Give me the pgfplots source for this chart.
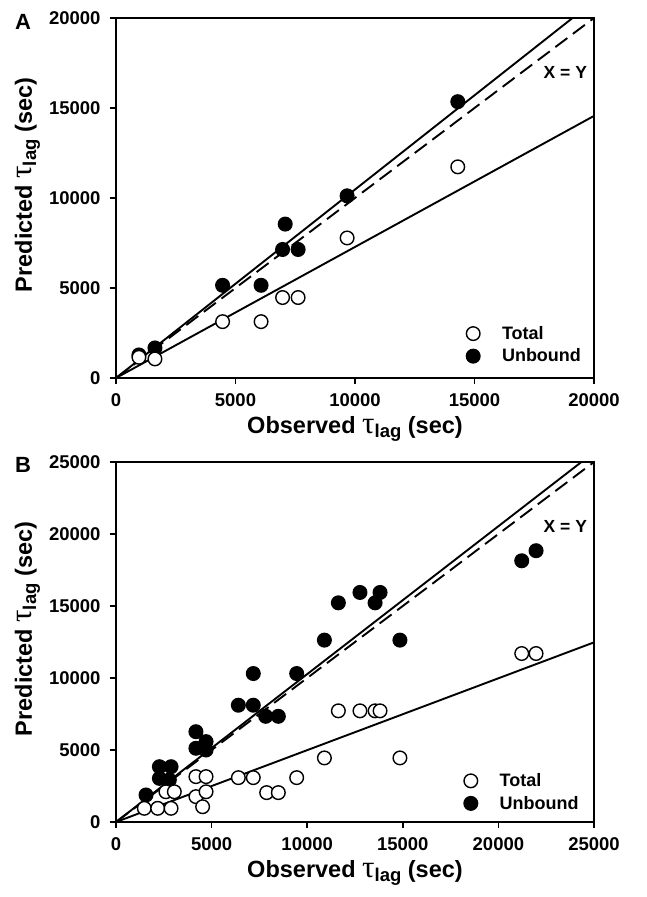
\documentclass[border=0pt]{standalone}
\usepackage{fontspec}
\setmainfont{Liberation Sans}
\newfontfamily\symfont{Liberation Serif}
\usepackage{pgfplots}
\pgfplotsset{compat=1.18}

\newcommand{\taulag}{{\fontsize{31}{31}\selectfont\symfont\mdseries τ}\raisebox{-0.35ex}{\fontsize{18.5}{19}\selectfont lag}}

\pgfplotsset{
  panel/.style={
    scale only axis, width=478pt, height=360pt, anchor=south west,
    xmin=0, ymin=0,
    axis line style={line width=1.5pt},
    tick style={line width=1.5pt, black},
    major tick length=6pt, tick align=outside, tick pos=left,
    tick label style={font=\fontsize{18.5}{20}\selectfont\bfseries},
    yticklabel style={xshift=-6pt},
    xticklabel style={yshift=-8pt, inner sep=1pt},
    /pgf/number format/assume math mode=true,
    /pgf/number format/1000 sep={},
    scaled ticks=false,
    label style={font=\fontsize{23.5}{25}\selectfont\bfseries, inner sep=0.5pt},
    xlabel style={at={(axis description cs:0.5,-0.154)}, anchor=base},
    ylabel style={at={(axis description cs:-0.176,0.536)}, anchor=base},
    xlabel={Observed \taulag{} (sec)},
    ylabel={Predicted \taulag{} (sec)},
    legend style={draw=none, fill=none, font=\fontsize{18}{20}\selectfont\bfseries,
      row sep=4pt, column sep=20pt, anchor=center},
    legend cell align=left,
  },
  openm/.style={only marks, mark=*, mark size=6.8pt,
    mark options={fill=white, draw=black, line width=1.4pt}},
  fillm/.style={only marks, mark=*, mark size=6.8pt,
    mark options={fill=black, draw=black, line width=1.4pt}},
  fitline/.style={line width=1.9pt, black, forget plot},
}

\pgfplotstableread{
x y
960 1280
1630 1670
4460 5150
6070 5150
6970 7140
7620 7140
7080 8550
9670 10120
14300 15350
}\unboundA
\pgfplotstableread{
x y
960 1150
1630 1060
4460 3130
6070 3130
6970 4470
7620 4470
9670 7780
14300 11730
}\totalA

\pgfplotstableread{
x y
1570 1875
2270 3840
2880 3840
2270 3030
2790 2920
4180 6270
4180 5120
4710 5580
4710 5000
6400 8110
7180 10310
7180 8110
7830 7340
8490 7340
9450 10310
10900 12630
14850 12630
11630 15220
12760 15940
13550 15220
13810 15940
21220 18140
21970 18840
}\unboundB
\pgfplotstableread{
x y
1480 950
2180 950
2880 950
2610 2100
3050 2100
4180 3150
4710 3150
4180 1760
4710 2100
4530 1060
6400 3080
7180 3080
9450 3080
7880 2040
8490 2040
10900 4450
14850 4450
11630 7720
12760 7720
13550 7720
13810 7720
21220 11700
21970 11700
}\totalB

\begin{document}
\begin{tikzpicture}
\useasboundingbox (0,0) rectangle (646pt,897pt);

\begin{axis}[panel, at={(116pt,519pt)}, xmax=20000, ymax=20000,
  xtick={0,5000,10000,15000,20000}, ytick={0,5000,10000,15000,20000},
  legend style={at={(axis description cs:0.855,0.092)}}]
\addplot[fitline] coordinates {(0,0) (20000,20940)};
\addplot[fitline] coordinates {(0,0) (20000,14560)};
\addplot[fitline, dash pattern=on 15pt off 7pt] coordinates {(0,0) (20000,20000)};
\addplot[fillm, forget plot] table {\unboundA};
\addplot[openm, forget plot] table {\totalA};
\addlegendimage{openm}
\addlegendimage{fillm}
\legend{Total, Unbound}
\node[font=\fontsize{17.5}{19}\selectfont\bfseries] at (axis cs:18800,17000) {X = Y};
\end{axis}

\begin{axis}[panel, at={(116pt,75pt)}, xmax=25000, ymax=25000,
  xtick={0,5000,10000,15000,20000,25000}, ytick={0,5000,10000,15000,20000,25000},
  legend style={at={(axis description cs:0.85,0.083)}}]
\addplot[fitline] coordinates {(0,0) (25000,25675)};
\addplot[fitline] coordinates {(0,0) (25000,12475)};
\addplot[fitline, dash pattern=on 15pt off 7pt] coordinates {(0,0) (25000,25000)};
\addplot[fillm, forget plot] table {\unboundB};
\addplot[openm, forget plot] table {\totalB};
\addlegendimage{openm}
\addlegendimage{fillm}
\legend{Total, Unbound}
\node[font=\fontsize{17.5}{19}\selectfont\bfseries] at (axis cs:23500,20550) {X = Y};
\end{axis}

\node[font=\fontsize{22}{22}\selectfont\bfseries] at (23pt,875pt) {A};
\node[font=\fontsize{22}{22}\selectfont\bfseries] at (23pt,432pt) {B};
\end{tikzpicture}
\end{document}
